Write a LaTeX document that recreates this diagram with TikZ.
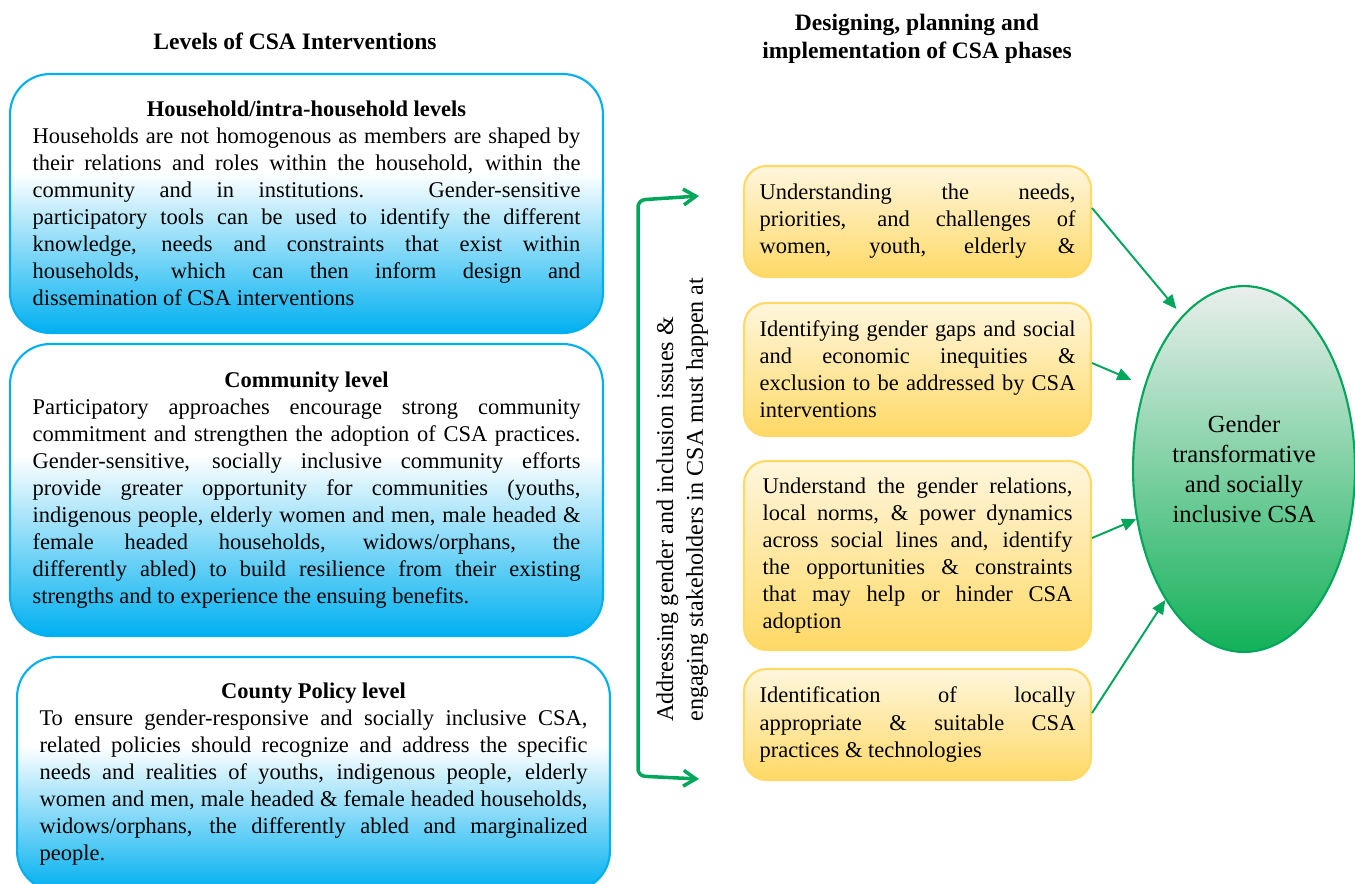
\documentclass[tikz,border=0pt]{standalone}
\usepackage{fontspec}
\setmainfont{Liberation Serif}
\usetikzlibrary{arrows.meta,shapes.geometric}

\definecolor{lvlblue}{RGB}{0,176,240}
\definecolor{phaseedge}{RGB}{255,217,102}
\definecolor{phasetop}{RGB}{255,246,221}
\definecolor{csagreen}{RGB}{0,166,90}
\definecolor{ovaltop}{RGB}{234,239,237}
\definecolor{ovalbot}{RGB}{18,177,88}

% white upper part, fading into blue towards the bottom
\pgfdeclareverticalshading{levelfill}{100bp}{color(0bp)=(lvlblue); color(25bp)=(lvlblue); color(56bp)=(white); color(100bp)=(white)}

% one justified line / one centred bold heading line
\newcommand{\jl}[1]{{\spaceskip=0pt\xspaceskip=0pt\makebox[\linewidth][s]{#1}}}
\newcommand{\hd}[1]{\makebox[\linewidth]{\bfseries #1}}

\begin{document}
\begin{tikzpicture}[
    x=0.02cm, y=-0.02cm,
    level/.style={draw=lvlblue, line width=1.2pt, rounded corners=0.8cm, shading=levelfill,
      text width=10.96cm, inner xsep=0.45cm, inner ysep=0pt, align=justify,
      font=\fontsize{12.8pt}{15.4pt}\selectfont},
    phase/.style={draw=phaseedge, line width=1.2pt, rounded corners=0.45cm,
      top color=phasetop, bottom color=phaseedge, text width=6.32cm, inner xsep=0.31cm,
      inner ysep=0pt, align=justify, font=\fontsize{12.8pt}{15.4pt}\selectfont},
    hdr/.style={font=\fontsize{13.4pt}{15.9pt}\selectfont\bfseries, align=center},
    arr/.style={-{Triangle[length=8pt,width=7pt]}, csagreen, line width=1.1pt},
    brk/.style={{Straight Barb[length=7pt,width=9pt]}-{Straight Barb[length=7pt,width=9pt]},
      csagreen, line width=2pt, rounded corners=4pt},
  ]
    \useasboundingbox (0,0) rectangle (1355,883);

    % --- Titles ---
    \node[hdr] (lvlttl) at (295,41) {Levels of CSA Interventions};
    \node[hdr] (phsttl) at (917,39) {Designing, planning and\\implementation of CSA phases};

    % --- Levels ---
    \node[level, minimum height=5.18cm] (hh) at (306.5,203.5) {%
      \hd{Household/intra-household levels}\\
      \jl{Households are not homogenous as members are shaped by}\\
      \jl{their relations and roles within the household, within the}\\
      \jl{community and in institutions. Gender-sensitive}\\
      \jl{participatory tools can be used to identify the different}\\
      \jl{knowledge, needs and constraints that exist within}\\
      \jl{households, which can then inform design and}\\
      dissemination of CSA interventions};
    \node[level, minimum height=5.84cm] (com) at (306.5,490) {%
      \hd{Community level}\\
      \jl{Participatory approaches encourage strong community}\\
      \jl{commitment and strengthen the adoption of CSA practices.}\\
      \jl{Gender-sensitive, socially inclusive community efforts}\\
      \jl{provide greater opportunity for communities (youths,}\\
      \jl{indigenous people, elderly women and men, male headed \&}\\
      \jl{female headed households, widows/orphans, the}\\
      \jl{differently abled) to build resilience from their existing}\\
      strengths and to experience the ensuing benefits.};
    \node[level, minimum height=4.68cm] (cty) at (313.5,774) {%
      \hd{County Policy level}\\
      \jl{To ensure gender-responsive and socially inclusive CSA,}\\
      \jl{related policies should recognize and address the specific}\\
      \jl{needs and realities of youths, indigenous people, elderly}\\
      \jl{women and men, male headed \& female headed households,}\\
      \jl{widows/orphans, the differently abled and marginalized}\\
      people.};

    % --- Bracket and its note ---
    \node[rotate=90, anchor=north west, align=left, inner sep=0pt,
      font=\fontsize{13.7pt}{17pt}\selectfont] (note) at (656,722)
      {Addressing gender and inclusion issues \&\\engaging stakeholders in CSA must happen at};
    \coordinate (bt) at (699,196);
    \coordinate (bb) at (699,779);
    \draw[brk] (bt) -- (638,200) -- (638,776) -- (bb);

    % --- Phases ---
    \node[phase, minimum height=2.22cm] (p1) at (917.5,221.5) {%
      \jl{Understanding the needs,}\\
      \jl{priorities, and challenges of}\\
      \jl{women, youth, elderly \&}};
    \node[phase, minimum height=2.66cm] (p2) at (917.5,369.5) {%
      \jl{Identifying gender gaps and social}\\
      \jl{and economic inequities \&}\\
      \jl{exclusion to be addressed by CSA}\\
      interventions};
    \node[phase, minimum height=3.78cm, text width=6.2cm, inner xsep=0.37cm] (p3) at (917.5,555.5) {%
      \jl{Understand the gender relations,}\\
      \jl{local norms, \& power dynamics}\\
      \jl{across social lines and, identify}\\
      \jl{the opportunities \& constraints}\\
      \jl{that may help or hinder CSA}\\
      adoption};
    \node[phase, minimum height=2.22cm] (p4) at (917.5,724.5) {%
      \jl{Identification of locally}\\
      \jl{appropriate \& suitable CSA}\\
      practices \& technologies};

    % --- Outcome ---
    \node[ellipse, draw=csagreen, line width=1.2pt, top color=ovaltop, bottom color=ovalbot,
      minimum width=4.44cm, minimum height=7.32cm, inner sep=0pt, align=center,
      font=\fontsize{14pt}{17pt}\selectfont] (gt) at (1244,469)
      {Gender\\transformative\\and socially\\inclusive CSA};

    \draw[arr, shorten >=5pt] ([yshift=0.27cm]p1.east) -- (gt.112);
    \draw[arr, shorten >=8pt] ([yshift=0.13cm]p2.east) -- (gt.140);
    \draw[arr] ([yshift=0.35cm]p3.east) -- (gt.205);
    \draw[arr] ([yshift=0.23cm]p4.east) -- (gt.239);
  \end{tikzpicture}
\end{document}
